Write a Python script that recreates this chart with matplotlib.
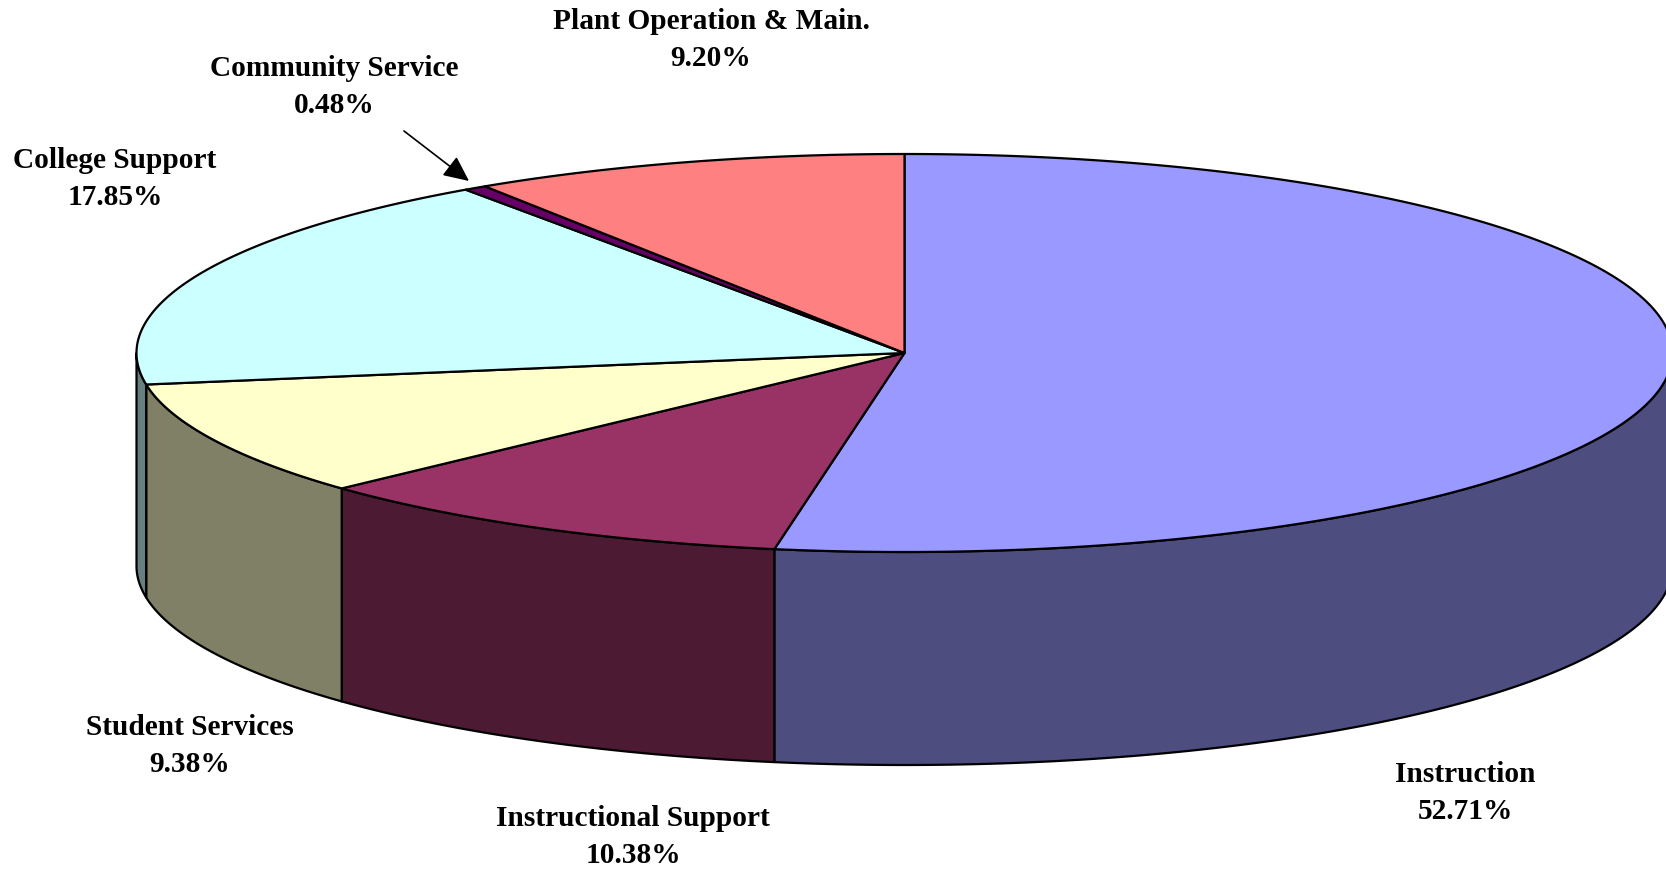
import numpy as np
import matplotlib.pyplot as plt
from matplotlib.patches import Polygon

# data
categories = ['Instruction', 'Instructional Support', 'Student Services',
              'College Support', 'Community Service', 'Plant Operation & Main.']
shares = [52.71, 10.38, 9.38, 17.85, 0.48, 9.20]
top_colors = ['#9999FF', '#993366', '#FFFFCC', '#CCFFFF', '#660066', '#FF8080']
side_colors = ['#4D4D80', '#4D1A33', '#808066', '#668080', '#330033', '#804040']
label_pos = [(1465, 793), (633, 837), (190, 746), (115, 179), (334, 87), (711, 40)]

W, H = 1666, 872
cx, cy = 904.5, 353
rx, ry = 768, 199
depth = 213

plt.rcParams['font.family'] = ['Liberation Serif']
fig = plt.figure(figsize=(W / 100, H / 100), dpi=100)
ax = fig.add_axes([0, 0, 1, 1])
ax.set_xlim(0, W)
ax.set_ylim(H, 0)
ax.axis('off')


def rim(a0, a1, dy=0):
    t = np.radians(np.linspace(a0, a1, max(int(abs(a1 - a0) * 4), 2)))
    return np.column_stack([cx + rx * np.sin(t), cy - ry * np.cos(t) + dy])


edges = np.cumsum([0] + shares) / sum(shares) * 360

# side wall, only the front half (90-270 deg) shows
for i in range(len(shares)):
    a0, a1 = max(edges[i], 90), min(edges[i + 1], 270)
    if a1 > a0:
        pts = np.vstack([rim(a0, a1), rim(a0, a1, depth)[::-1]])
        ax.add_patch(Polygon(pts, closed=True, fc=side_colors[i], ec='black', lw=1.6, joinstyle='round'))

# top face
for i in range(len(shares)):
    pts = np.vstack([[cx, cy], rim(edges[i], edges[i + 1])])
    ax.add_patch(Polygon(pts, closed=True, fc=top_colors[i], ec='black', lw=1.6, joinstyle='round'))

# labels
for name, val, (x, y) in zip(categories, shares, label_pos):
    ax.text(x, y, f'{name}\n{val:.2f}%', ha='center', va='center', fontsize=21.2,
            fontweight='bold', color='black', linespacing=1.51)

# leader arrow to Community Service
ax.annotate('', xy=(469, 181), xytext=(404, 131),
            arrowprops=dict(arrowstyle='-|>,head_length=0.6,head_width=0.28', color='black', lw=1.2,
                            mutation_scale=26, shrinkA=0, shrinkB=0))

fig.savefig('out.png', dpi=100, facecolor='white')
